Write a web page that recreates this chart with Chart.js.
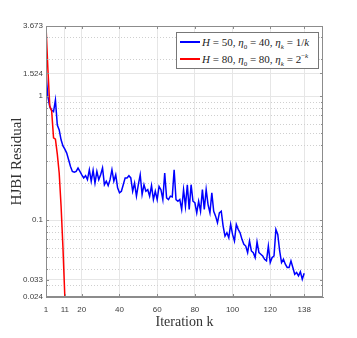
<!DOCTYPE html>
<html>
<head>
<meta charset="utf-8">
<script src="https://cdn.jsdelivr.net/npm/chart.js@4"></script>
<style>
  body { margin: 0; background: #fff; }
  #wrap { position: relative; width: 357px; height: 338px; }
  #legend {
    position: absolute; left: 176px; top: 32px; width: 141px; height: 35px;
    border: 1px solid #777; background: #fff;
    font-family: 'Liberation Serif', 'DejaVu Serif', serif; font-size: 11px; color: #222;
  }
  .row { display: flex; align-items: center; height: 17px; padding-left: 3px; white-space: nowrap; }
  .swatch { width: 20px; height: 0; border-top: 2px solid; margin-right: 2px; }
  sub { font-size: 7px; line-height: 0; }
  sup { font-size: 7px; line-height: 0; }
</style>
</head>
<body>
<div id="wrap">
  <canvas id="chart" width="357" height="338"></canvas>
  <div id="legend">
    <div class="row"><span class="swatch" style="border-color:#0000ff"></span><span><i>H</i> = 50, <i>η</i><sub>0</sub> = 40, <i>η<sub>k</sub></i> = 1/<i>k</i></span></div>
    <div class="row"><span class="swatch" style="border-color:#ff0000"></span><span><i>H</i> = 80, <i>η</i><sub>0</sub> = 80, <i>η<sub>k</sub></i> = 2<sup>−<i>k</i></sup></span></div>
  </div>
</div>
<script>
// residuals, k = 1, 2, 3 ...
const blueResidual = [
  1.524, 0.988, 0.821, 0.772, 0.749, 0.929, 0.585, 0.534, 0.444, 0.397,
  0.373, 0.347, 0.307, 0.271, 0.247, 0.243, 0.247, 0.263, 0.247, 0.232,
  0.219, 0.228, 0.212, 0.255, 0.206, 0.252, 0.199, 0.247, 0.212, 0.232,
  0.263, 0.193, 0.206, 0.190, 0.212, 0.255, 0.206, 0.232, 0.182, 0.166,
  0.171, 0.193, 0.219, 0.219, 0.228, 0.219, 0.171, 0.199, 0.156, 0.193,
  0.232, 0.161, 0.193, 0.171, 0.176, 0.156, 0.190, 0.1465, 0.171, 0.1465,
  0.187, 0.176, 0.1465, 0.240, 0.151, 0.1465, 0.156, 0.154, 0.255, 0.1465,
  0.142, 0.1465, 0.122, 0.176, 0.1295, 0.193, 0.122, 0.193, 0.142, 0.138,
  0.1145, 0.142, 0.118, 0.176, 0.122, 0.176, 0.1335, 0.1145, 0.166, 0.118,
  0.1077, 0.0952, 0.1145, 0.118, 0.0895, 0.0744, 0.0792, 0.0722, 0.0923, 0.0767,
  0.0679, 0.0923, 0.0842, 0.0792, 0.070, 0.0638, 0.0618, 0.0547, 0.0679, 0.0564,
  0.0547, 0.0499, 0.0667, 0.0547, 0.0531, 0.0514, 0.0483, 0.0469, 0.0618, 0.0455,
  0.0499, 0.0514, 0.0842, 0.0767, 0.0564, 0.0455, 0.0483, 0.0441, 0.0415, 0.0415,
  0.0469, 0.0415, 0.0366, 0.0378, 0.0355, 0.0383, 0.0334, 0.0373
]
const redResidual = [3.673, 1.65, 0.83, 0.76, 0.46, 0.45, 0.34, 0.24, 0.13, 0.06, 0.024]

const xTicks = [1, 11, 20, 40, 60, 80, 100, 120, 138]
const yTicks = [0.024, 0.033, 0.1, 1, 1.524, 3.673]
const yMinor = [0.03, 0.04, 0.05, 0.06, 0.07, 0.08, 0.09, 0.2, 0.3, 0.4, 0.5, 0.6, 0.7, 0.8, 0.9, 2, 3]

const toPoints = arr => arr.map((v, i) => ({ x: i + 1, y: v }))

const frame = {
  id: 'frame',
  beforeDatasetsDraw(chart) {
    const { ctx, chartArea: a, scales: { y } } = chart
    ctx.save()
    ctx.strokeStyle = '#cfcfcf'
    ctx.lineWidth = 1
    ctx.setLineDash([1, 2])
    yMinor.forEach(v => {
      const py = Math.round(y.getPixelForValue(v)) + 0.5
      ctx.beginPath()
      ctx.moveTo(a.left, py)
      ctx.lineTo(a.right, py)
      ctx.stroke()
    })
    ctx.restore()
  },
  afterDatasetsDraw(chart) {
    const { ctx, chartArea: a, scales: { x, y } } = chart
    ctx.save()
    ctx.strokeStyle = '#8c8c8c'
    ctx.lineWidth = 1
    ctx.strokeRect(a.left + 0.5, a.top + 0.5, a.right - a.left - 1, a.bottom - a.top - 1)
    ctx.beginPath()
    xTicks.forEach(v => {
      const px = Math.round(x.getPixelForValue(v)) + 0.5
      ctx.moveTo(px, a.top); ctx.lineTo(px, a.top + 3)
      ctx.moveTo(px, a.bottom); ctx.lineTo(px, a.bottom - 3)
    })
    yTicks.forEach(v => {
      const py = Math.round(y.getPixelForValue(v)) + 0.5
      ctx.moveTo(a.left, py); ctx.lineTo(a.left + 3, py)
      ctx.moveTo(a.right, py); ctx.lineTo(a.right - 3, py)
    })
    yMinor.forEach(v => {
      const py = Math.round(y.getPixelForValue(v)) + 0.5
      ctx.moveTo(a.left, py); ctx.lineTo(a.left + 2, py)
      ctx.moveTo(a.right, py); ctx.lineTo(a.right - 2, py)
    })
    ctx.stroke()
    ctx.restore()
  }
}

const tickFont = { family: "'Liberation Sans Narrow', 'Liberation Sans', sans-serif", size: 8 }
const titleFont = { family: "'Liberation Serif', 'DejaVu Serif', serif", size: 14 }

new Chart(document.getElementById('chart'), {
  type: 'line',
  data: {
    datasets: [{
      label: 'blue',
      data: toPoints(blueResidual),
      borderColor: '#0000ff',
      borderWidth: 1.5,
      pointRadius: 0,
      tension: 0,
      order: 2
    }, {
      label: 'red',
      data: toPoints(redResidual),
      borderColor: '#ff0000',
      borderWidth: 1.5,
      pointRadius: 0,
      tension: 0,
      order: 1
    }]
  },
  options: {
    responsive: false,
    animation: false,
    devicePixelRatio: 1,
    layout: { padding: { top: 26, right: 34, left: 0, bottom: 0 } },
    plugins: { legend: { display: false }, tooltip: { enabled: false } },
    scales: {
      x: {
        type: 'linear',
        min: 1,
        max: 148,
        afterBuildTicks: s => { s.ticks = xTicks.map(v => ({ value: v })) },
        afterFit: s => { s.height = 41 },
        grid: { color: '#e6e6e6', drawTicks: false },
        border: { color: '#8c8c8c' },
        ticks: { autoSkip: false, maxRotation: 0, padding: 8, color: '#404040', font: tickFont, callback: v => String(v) },
        title: { display: true, text: 'Iteration k', color: '#333', font: titleFont, padding: { top: 0, bottom: 7 } }
      },
      y: {
        type: 'logarithmic',
        min: 0.024,
        max: 3.673,
        afterBuildTicks: s => { s.ticks = yTicks.map(v => ({ value: v })) },
        afterFit: s => { s.width = 46 },
        grid: { color: '#e6e6e6', drawTicks: false },
        border: { color: '#8c8c8c' },
        ticks: { autoSkip: false, padding: 3, color: '#404040', font: tickFont, callback: v => String(v) },
        title: { display: true, text: 'HJBI Residual', color: '#333', font: { ...titleFont, size: 15 }, padding: { top: 8, bottom: 0 } }
      }
    }
  },
  plugins: [frame]
})
</script>
</body>
</html>
